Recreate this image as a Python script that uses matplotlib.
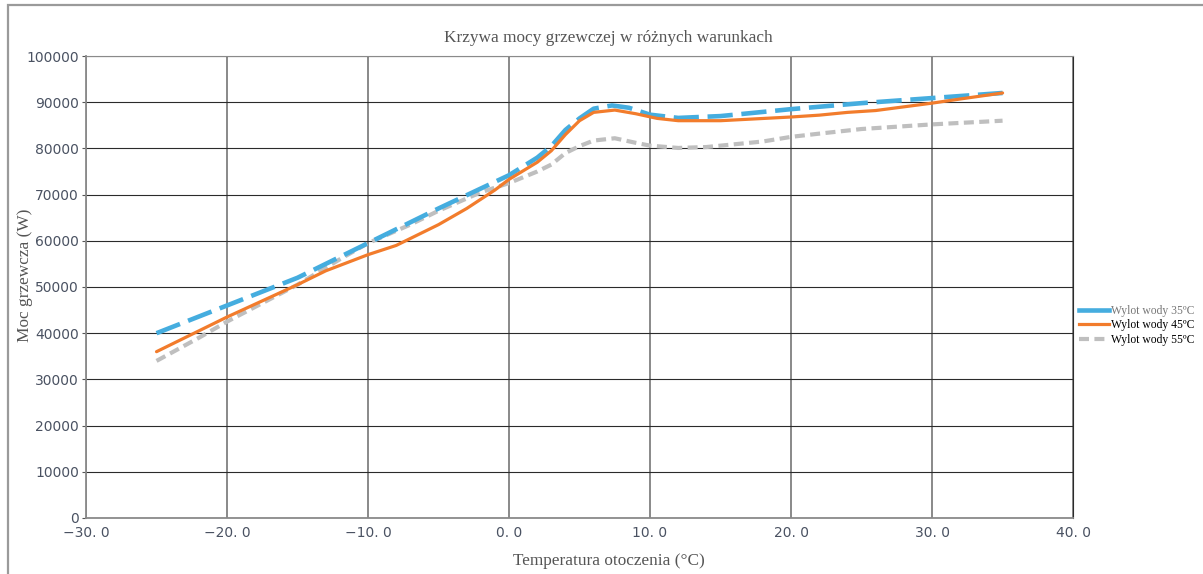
import matplotlib.pyplot as plt
from matplotlib.lines import Line2D
from matplotlib.patches import Rectangle

# heating capacity vs ambient temperature for three water outlet temperatures
temp_35 = [-25, -20, -15, -10, -5, 0, 2, 3, 4, 5, 6, 7.3, 8.5, 10, 12, 15, 20, 25, 30, 35]
power_35 = [40000, 46000, 52000, 59500, 67000, 74200, 78000, 80500, 84000, 86500,
            88600, 89300, 88800, 87300, 86600, 87000, 88500, 89800, 90900, 92000]

temp_45 = [-25, -20, -15, -13, -10, -8, -5, -3, -1, 0, 2, 3, 4, 5, 6, 7.5, 9, 10.5,
           12, 15, 20, 22, 24, 26, 28, 30, 32, 35]
power_45 = [36000, 43500, 50500, 53500, 57000, 59000, 63500, 67000, 71000, 73300,
            77000, 79500, 83000, 86000, 87800, 88300, 87500, 86500, 86000, 86000,
            86800, 87200, 87800, 88200, 89000, 89800, 90700, 92000]

temp_55 = [-25, -22, -20, -15, -12, -10, -7, -5, -2, 0, 2, 3, 4, 5, 6, 7.5, 9, 10,
           12, 14, 16, 18, 20, 22, 25, 28, 30, 35]
power_55 = [34000, 39000, 42500, 50500, 56000, 59500, 63500, 66500, 70500, 72500,
            75000, 76500, 79000, 80500, 81700, 82200, 81200, 80600, 80100, 80300,
            80900, 81500, 82500, 83200, 84200, 84800, 85200, 86000]

labels = ['Wylot wody 35ºC', 'Wylot wody 45ºC', 'Wylot wody 55ºC']
colors = ['#45ADDF', '#F27C2C', '#BFBFBF']

x_ticks = [-30, -20, -10, 0, 10, 20, 30, 40]
y_ticks = list(range(0, 100001, 10000))

fig = plt.figure(figsize=(12.03, 5.74), dpi=100)
ax = fig.add_axes([0.0715, 0.0976, 0.8205, 0.8048])

# outer frame of the chart area
fig.patches.append(Rectangle((8 / 1203, -0.1), 1.2, 1 - 5 / 574 + 0.1,
                             transform=fig.transFigure, fill=False,
                             edgecolor='#9a9a9a', linewidth=1.6))

ax.plot(temp_35, power_35, color=colors[0], linewidth=3.3, dashes=(5.5, 1.9),
        solid_joinstyle='round', zorder=5)
ax.plot(temp_45, power_45, color=colors[1], linewidth=2.3, solid_capstyle='round',
        solid_joinstyle='round', zorder=6)
ax.plot(temp_55, power_55, color=colors[2], linewidth=3.0, dashes=(2.4, 1.3),
        solid_joinstyle='round', zorder=4)

ax.set_xlim(-30, 40)
ax.set_ylim(0, 100000)
ax.set_xticks(x_ticks)
ax.set_xticklabels([('%.1f' % t).replace('.', '. ').replace('-', '−') for t in x_ticks])
ax.set_yticks(y_ticks)
ax.set_yticklabels([str(v) for v in y_ticks])

ax.grid(axis='y', color='#2b2b2b', linewidth=0.8)
ax.grid(axis='x', color='#6a6a6a', linewidth=1.1)
for side in ['left', 'bottom']:
    ax.spines[side].set_color('#8a8a8a')
    ax.spines[side].set_linewidth(1.3)
ax.spines['top'].set_color('#8a8a8a')
ax.spines['right'].set_color('#2b2b2b')
ax.tick_params(axis='y', length=3, color='#555555', labelsize=10, labelcolor='#4a5262', pad=2)
ax.tick_params(axis='x', length=0, labelsize=10, labelcolor='#4a5262', pad=6)

serif = 'Liberation Serif'
fig.text(0.506, 0.934, 'Krzywa mocy grzewczej w różnych warunkach', ha='center', va='center',
         family=serif, fontsize=12.4, color='#555555')
fig.text(0.506, 0.022, 'Temperatura otoczenia (°C)', ha='center', va='center',
         family=serif, fontsize=12.4, color='#555555')
fig.text(0.021, 0.52, 'Moc grzewcza (W)', ha='center', va='center', rotation=90,
         family=serif, fontsize=12.4, color='#555555')

handles = [Line2D([], [], color=colors[0], linewidth=3.3),
           Line2D([], [], color=colors[1], linewidth=2.3),
           Line2D([], [], color=colors[2], linewidth=3.0, dashes=(2.4, 1.3))]
leg = fig.legend(handles, labels, loc='center left', bbox_to_anchor=(0.888, 0.433),
                 frameon=False, prop={'family': serif, 'size': 8.4},
                 handlelength=2.6, handletextpad=0.15, labelspacing=0.2)
leg.get_texts()[0].set_color('#777777')

fig.savefig('out.png', dpi=100)
